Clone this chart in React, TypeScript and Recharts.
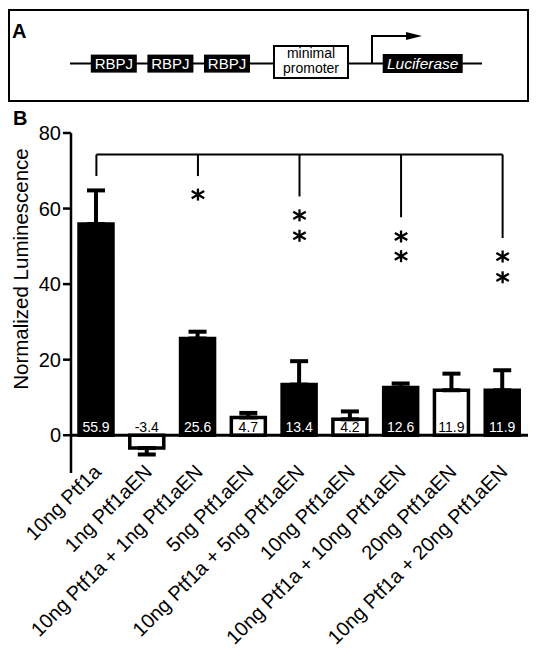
import React from 'react';
import {
  ComposedChart, Bar, XAxis, YAxis, ErrorBar, Cell, LabelList,
  ReferenceLine, ReferenceDot, Customized,
} from 'recharts';

const categories = [
  '10ng Ptf1a',
  '1ng Ptf1aEN',
  '10ng Ptf1a + 1ng Ptf1aEN',
  '5ng Ptf1aEN',
  '10ng Ptf1a + 5ng Ptf1aEN',
  '10ng Ptf1aEN',
  '10ng Ptf1a + 10ng Ptf1aEN',
  '20ng Ptf1aEN',
  '10ng Ptf1a + 20ng Ptf1aEN',
];
const means = [55.9, -3.4, 25.6, 4.7, 13.4, 4.2, 12.6, 11.9, 11.9];
const errors = [8.9, 1.7, 1.8, 1.2, 6.2, 2.1, 1.1, 4.4, 5.3];
const filled = [true, false, true, false, true, false, true, false, true];
const yTicks = [0, 20, 40, 60, 80];

// significance bracket
const bracketY = 74.3;
const dropCats = [categories[0], categories[2], categories[4], categories[6], categories[8]];
const dropEnds = [68.6, 68.6, 63.2, 57.7, 52.2];
const starCats = [categories[2], categories[4], categories[4], categories[6], categories[6], categories[8], categories[8]];
const starValues = [63.7, 58.2, 52.8, 52.6, 47.4, 47.3, 41.8];

const data = categories.map((name, i) => ({
  name,
  value: means[i],
  err: means[i] >= 0 ? [0, errors[i]] : [errors[i], 0],
}));

const FONT = '"Liberation Sans", Arial, Helvetica, sans-serif';

const XTick = (props: any) => {
  const { x, y, payload } = props;
  const ax = x + 6;
  const ay = y + 0;
  return (
    <text
      x={ax}
      y={ay}
      transform={`rotate(-45, ${ax}, ${ay})`}
      textAnchor="end"
      fontSize={20}
      fontFamily={FONT}
      fill="#000"
    >
      {payload.value}
    </text>
  );
};

const ValueLabel = (props: any) => {
  const { x, y, width, height, value, index } = props;
  const top = Math.min(y, y + height);
  const bottom = Math.max(y, y + height);
  const zeroY = value >= 0 ? bottom : top;
  return (
    <text
      x={x + width / 2}
      y={zeroY - 3}
      textAnchor="middle"
      fontSize={14}
      fontFamily={FONT}
      fill={filled[index] ? '#fff' : '#000'}
    >
      {value}
    </text>
  );
};

const Asterisk = (props: any) => {
  const { cx, cy } = props;
  const arms = [
    { deg: 90, r: 6 },
    { deg: 30, r: 7.2 },
    { deg: -30, r: 7.2 },
  ];
  return (
    <g>
      {arms.map(({ deg, r }) => {
        const a = (deg * Math.PI) / 180;
        return (
          <line
            key={deg}
            x1={cx - r * Math.cos(a)}
            y1={cy - r * Math.sin(a)}
            x2={cx + r * Math.cos(a)}
            y2={cy + r * Math.sin(a)}
            stroke="#000"
            strokeWidth={2.3}
          />
        );
      })}
    </g>
  );
};

const Decorations = () => (
  <g fontFamily={FONT}>
    {/* Panel A */}
    <rect x={9} y={10} width={519} height={91} fill="none" stroke="#000" strokeWidth={2} />
    <text x={12} y={38} fontSize={20} fontWeight="bold">A</text>
    <line x1={70} y1={63.5} x2={482} y2={63.5} stroke="#000" strokeWidth={2} />
    {[90.8, 147.4, 204].map((bx) => (
      <g key={bx}>
        <rect x={bx} y={54.6} width={46} height={18} fill="#000" />
        <text x={bx + 23} y={69} fontSize={15} fill="#fff" textAnchor="middle">RBPJ</text>
      </g>
    ))}
    <rect x={274} y={46} width={74} height={32} fill="#fff" stroke="#000" strokeWidth={2} />
    <text x={311} y={58} fontSize={14} textAnchor="middle">minimal</text>
    <text x={311} y={72.5} fontSize={14} textAnchor="middle">promoter</text>
    <rect x={382.7} y={54} width={80} height={19} fill="#000" />
    <text x={422.7} y={69} fontSize={15.5} fill="#fff" textAnchor="middle" fontStyle="italic">Luciferase</text>
    <polyline points="372,63.5 372,36 408,36" fill="none" stroke="#000" strokeWidth={2} />
    <polygon points="406,32 422,36 406,40" fill="#000" />
    {/* Panel B */}
    <text x={13} y={125} fontSize={20} fontWeight="bold">B</text>
    <text
      x={28}
      y={269}
      transform="rotate(-90, 28, 269)"
      textAnchor="middle"
      fontSize={20.5}
      fill="#000"
    >
      Normalized Luminescence
    </text>
  </g>
);

export default function App() {
  return (
    <div style={{ position: 'absolute', left: 0, top: 0, width: 538, height: 657, background: '#fff' }}>
      <ComposedChart
        width={538}
        height={657}
        data={data}
        margin={{ top: 133, right: 10, bottom: 0, left: 0 }}
        barCategoryGap={0}
      >
        <XAxis
          dataKey="name"
          axisLine={false}
          tickLine={false}
          tickSize={0}
          tickMargin={0}
          height={184}
          interval={0}
          tick={<XTick />}
          allowDuplicatedCategory={false}
        />
        <YAxis
          width={71}
          domain={[-10, 80]}
          ticks={yTicks}
          interval={0}
          allowDataOverflow
          axisLine={{ stroke: '#000', strokeWidth: 2.5 }}
          tickLine={{ stroke: '#000', strokeWidth: 2.5 }}
          tickSize={8}
          tickMargin={2}
          tick={{ fontSize: 20, fill: '#000', fontFamily: FONT }}
        />
        <Bar dataKey="value" barSize={34} stroke="#000" strokeWidth={3.5} isAnimationActive={false}>
          {data.map((d, i) => (
            <Cell key={d.name} fill={filled[i] ? '#000' : '#fff'} />
          ))}
          <ErrorBar dataKey="err" width={9} strokeWidth={4} stroke="#000" direction="y" />
          <LabelList dataKey="value" content={<ValueLabel />} />
        </Bar>
        <ReferenceLine y={0} stroke="#000" strokeWidth={3} />
        <ReferenceLine
          segment={[{ x: categories[0], y: bracketY }, { x: categories[8], y: bracketY }]}
          stroke="#000"
          strokeWidth={2}
        />
        {dropCats.map((c, i) => (
          <ReferenceLine
            key={'d' + i}
            segment={[{ x: c, y: bracketY }, { x: c, y: dropEnds[i] }]}
            stroke="#000"
            strokeWidth={2}
          />
        ))}
        {starCats.map((c, i) => (
          <ReferenceDot key={'s' + i} x={c} y={starValues[i]} r={6} shape={<Asterisk />} />
        ))}
        <Customized component={<Decorations />} />
      </ComposedChart>
    </div>
  );
}
